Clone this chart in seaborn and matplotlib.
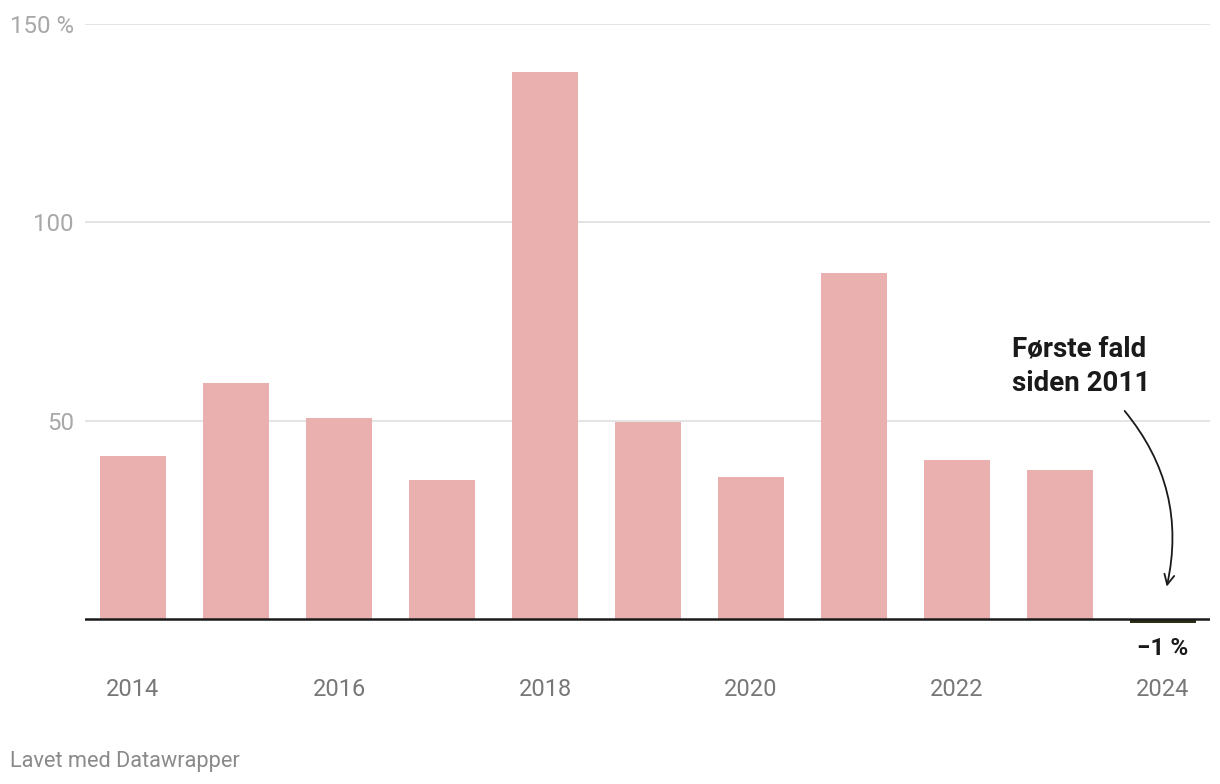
import matplotlib
matplotlib.use("Agg")
import matplotlib.pyplot as plt
import seaborn as sns
import pandas as pd

years = [2014, 2015, 2016, 2017, 2018, 2019, 2020, 2021, 2022, 2023, 2024]
growth = [41.1, 59.5, 50.6, 35.0, 138.0, 49.6, 35.8, 87.2, 40.0, 37.5, -1.0]
xtick_labels = ["2014", "", "2016", "", "2018", "", "2020", "", "2022", "", "2024"]
ytick_values = [50, 100, 150]
ytick_labels = ["50", "100", "150 %"]
annotation_text = "Første fald\nsiden 2011"
last_label = "−1 %"
footer = "Lavet med Datawrapper"

pos_color = "#eab0b0"
neg_color = "#2d2f14"

sns.set_theme(style="white")
plt.rcParams["font.family"] = ["Roboto", "DejaVu Sans"]

df = pd.DataFrame({"year": [str(y) for y in years], "growth": growth})
colors = [pos_color if v >= 0 else neg_color for v in growth]

fig = plt.figure(figsize=(12.2, 7.84), dpi=100)
ax = fig.add_axes([85/1220, 1-627/784, (1210-85)/1220, (627-24)/784])

sns.barplot(data=df, x="year", y="growth", hue="year", palette=colors,
            legend=False, width=0.64, ax=ax, saturation=1, linewidth=0)

ax.set_xlim(-0.466, 10.456)
ax.set_ylim(-2, 150)
ax.set_xlabel("")
ax.set_ylabel("")

for s in ax.spines.values():
    s.set_visible(False)

for v in ytick_values:
    ax.axhline(v, color="#e2e2e2", lw=1.3, zorder=0)
ax.axhline(0, color="#1a1a1a", lw=1.8, zorder=3)

ax.set_yticks(ytick_values)
ax.set_yticklabels(ytick_labels)
ax.tick_params(axis="y", length=0, pad=8, labelsize=17.3, labelcolor="#a8a8a8")

ax.set_xticks(range(len(years)))
ax.set_xticklabels(xtick_labels)
ax.tick_params(axis="x", length=0, pad=37, labelsize=17, labelcolor="#777777")

ax.text(8.53, 71.5, annotation_text, ha="left", va="top", fontsize=20,
        fontweight="bold", color="#1a1a1a", linespacing=1.38)
ax.annotate("", xy=(10.03, 7.5), xytext=(9.61, 53.0),
            arrowprops=dict(arrowstyle="->", color="#1a1a1a", lw=1.3,
                            connectionstyle="arc3,rad=-0.25",
                            mutation_scale=18))
ax.text(10, -7.3, last_label, ha="center", va="center", fontsize=17.5,
        fontweight="bold", color="#1a1a1a", clip_on=False)

fig.text(10/1220, 1-762/784, footer, ha="left", va="center", fontsize=15.7,
         color="#8a8a8a")

fig.savefig("out.png", dpi=100)
